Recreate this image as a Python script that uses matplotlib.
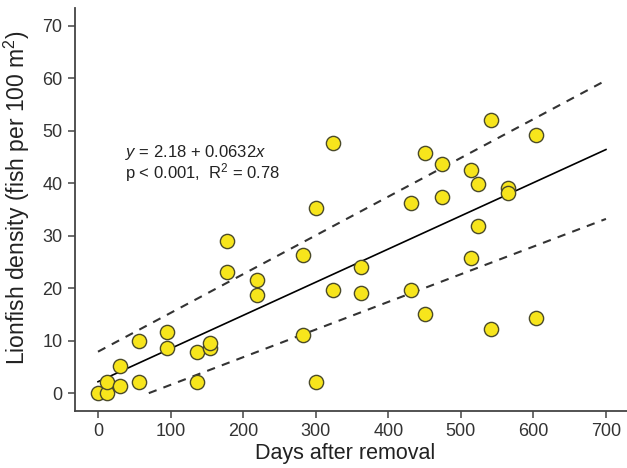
import numpy as np
import matplotlib
matplotlib.use('Agg')
import matplotlib.pyplot as plt

plt.rcParams['font.family'] = ['Liberation Sans', 'DejaVu Sans']
plt.rcParams['mathtext.fontset'] = 'custom'
plt.rcParams['mathtext.rm'] = 'Liberation Sans'
plt.rcParams['mathtext.it'] = 'Liberation Sans:italic'

# days since removal and lionfish density at each survey
days = [0, 13, 13, 31, 31, 56, 56, 95, 95, 136, 136, 154, 154, 178, 178,
        219, 219, 282, 282, 300, 300, 324, 324, 362, 362, 432, 432, 451, 451,
        474, 474, 514, 514, 523, 523, 541, 541, 565, 565, 604, 604]
density = [0, 0, 2.2, 1.4, 5.1, 2.2, 10.0, 11.6, 8.6, 7.9, 2.2, 8.6, 9.5,
           28.9, 23.1, 21.6, 18.7, 26.4, 11.1, 2.2, 35.2, 19.6, 47.6, 24.0,
           19.0, 19.6, 36.3, 15.1, 45.8, 37.4, 43.7, 25.7, 42.5, 31.9, 39.9,
           12.3, 52.1, 39.0, 38.1, 14.3, 49.1]

# fitted line y = a + b*x
a, b = 2.18, 0.0632
fit_x = [0, 700]

# dashed bounds (endpoints)
upper_x = [0, 700]
upper_y = [7.9, 59.6]
lower_x = [70, 700]
lower_y = [0, 33.2]

fig = plt.figure(figsize=(6.27, 4.68), dpi=100)
ax = fig.add_axes([0.1196, 0.1218, 0.8804, 0.8612])

fx = np.array(fit_x)
ax.plot(fx, a + b * fx, color='black', lw=1.2, zorder=2)
ax.plot(upper_x, upper_y, color='#333333', lw=1.5, ls=(0, (4, 3.5)), zorder=2)
ax.plot(lower_x, lower_y, color='#333333', lw=1.5, ls=(0, (4, 3.5)), zorder=2)

ax.scatter(days, density, s=105, facecolor='#f7e51c', edgecolor='#4a4a2a',
           linewidth=1.0, zorder=3)

ax.text(37, 45.8, '$\\it{y}$ = 2.18 + 0.0632$\\it{x}$',
        fontsize=12, va='center', ha='left', color='#222222')
ax.text(37, 42.0, 'p < 0.001,  R$^{2}$ = 0.78',
        fontsize=12, va='center', ha='left', color='#222222')

ax.set_xlim(-31.7, 729)
ax.set_ylim(-3.4, 73.4)
ax.set_xticks(range(0, 701, 100))
ax.set_yticks(range(0, 71, 10))

for s in ['top', 'right']:
    ax.spines[s].set_visible(False)
for s in ['left', 'bottom']:
    ax.spines[s].set_linewidth(1.3)
    ax.spines[s].set_color('#444444')

ax.tick_params(direction='out', length=5, width=1.1, color='#444444',
               labelsize=13, labelcolor='#333333', pad=4)
ax.set_xlabel('Days after removal', fontsize=15.5, color='#222222')
ax.set_ylabel('Lionfish density (fish per 100 m$^{2}$)', fontsize=16.5,
              color='#222222')
ax.xaxis.set_label_coords(0.49, -0.08)
ax.yaxis.set_label_coords(-0.078, 0.53)

fig.savefig('out.png', dpi=100)
